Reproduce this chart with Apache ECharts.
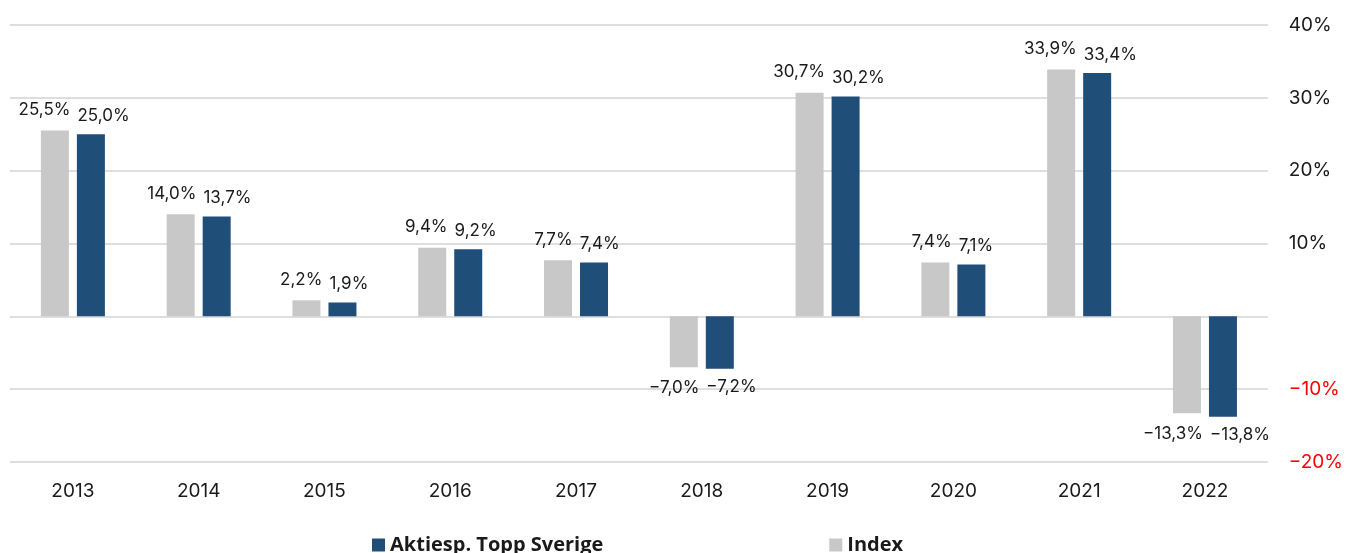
<!DOCTYPE html>
<html>
<head>
<meta charset="utf-8">
<script src="https://cdn.jsdelivr.net/npm/echarts@6/dist/echarts.min.js"></script>
<style>
  html, body { margin: 0; padding: 0; background: #fff; }
  #chart { width: 1346px; height: 553px; }
</style>
</head>
<body>
<div id="chart"></div>
<script>
const years = ["2013", "2014", "2015", "2016", "2017", "2018", "2019", "2020", "2021", "2022"];
const indexValues = [25.5, 14.0, 2.2, 9.4, 7.7, -7.0, 30.7, 7.4, 33.9, -13.3];
const fundValues = [25.0, 13.7, 1.9, 9.2, 7.4, -7.2, 30.2, 7.1, 33.4, -13.8];
const seriesNames = ["Index", "Aktiesp. Topp Sverige"];

const FONT = "Inter, Lato, sans-serif";
const LABEL_SIZE = 17;
const BLUE = "#1f4e79";
const GRAY = "#c8c8c8";
const BAR_W = 28;
const BAR_GAP = 8;

// 25,5% style with comma decimals
function pct(v) {
  const s = Math.abs(v).toFixed(1).replace(".", ",") + "%";
  return v < 0 ? "\u2212" + s : s;
}

// push the two labels of a year apart when they would touch
const ctx = document.createElement("canvas").getContext("2d");
ctx.font = `${LABEL_SIZE}px ${FONT}`;
const textW = v => ctx.measureText(pct(v)).width;

function offsets(i) {
  const need = (textW(indexValues[i]) + textW(fundValues[i])) / 2 + 7;
  const excess = Math.max(0, need - (BAR_W + BAR_GAP));
  return [-excess * 0.45, excess * 0.55];
}

function seriesData(values, side, dist) {
  return values.map((v, i) => ({
    value: v,
    label: {
      show: true,
      position: v < 0 ? "bottom" : "top",
      fontFamily: FONT,
      fontSize: LABEL_SIZE,
      color: "#1a1a1a",
      distance: dist,
      offset: [offsets(i)[side], 0],
      formatter: p => pct(p.value),
    },
  }));
}

const chart = echarts.init(document.getElementById("chart"));
chart.setOption({
  animation: false,
  grid: { left: 10, right: 77, top: 25, bottom: 91 },
  legend: {
    data: [seriesNames[1], seriesNames[0]],
    left: 367,
    top: 530,
    itemGap: 226,
    itemWidth: 13,
    itemHeight: 13,
    icon: "rect",
    textStyle: { fontFamily: "'Open Sans', Inter, sans-serif", fontSize: 20, fontWeight: "bold", color: "#1a1a1a" },
  },
  xAxis: {
    type: "category",
    data: years,
    axisLine: { show: false },
    axisTick: { show: false },
    axisLabel: { fontFamily: FONT, fontSize: 19, color: "#1a1a1a", margin: 20 },
  },
  yAxis: {
    type: "value",
    position: "right",
    min: -20,
    max: 40,
    interval: 10,
    axisLine: { show: false },
    axisTick: { show: false },
    splitLine: { lineStyle: { color: "#dedede", width: 2 } },
    axisLabel: {
      fontFamily: FONT,
      fontSize: 19,
      margin: 21,
      color: v => (v < 0 ? "#ff0000" : "#1a1a1a"),
      formatter: v => (v === 0 ? "" : (v < 0 ? "\u2212" : "") + Math.abs(v) + "%"),
    },
  },
  series: [
    {
      name: seriesNames[0],
      type: "bar",
      barWidth: BAR_W,
      barGap: (BAR_GAP / BAR_W * 100) + "%",
      itemStyle: { color: GRAY },
      data: seriesData(indexValues, 0, 12),
    },
    {
      name: seriesNames[1],
      type: "bar",
      barWidth: BAR_W,
      itemStyle: { color: BLUE },
      data: seriesData(fundValues, 1, 10),
    },
  ],
});
</script>
</body>
</html>
